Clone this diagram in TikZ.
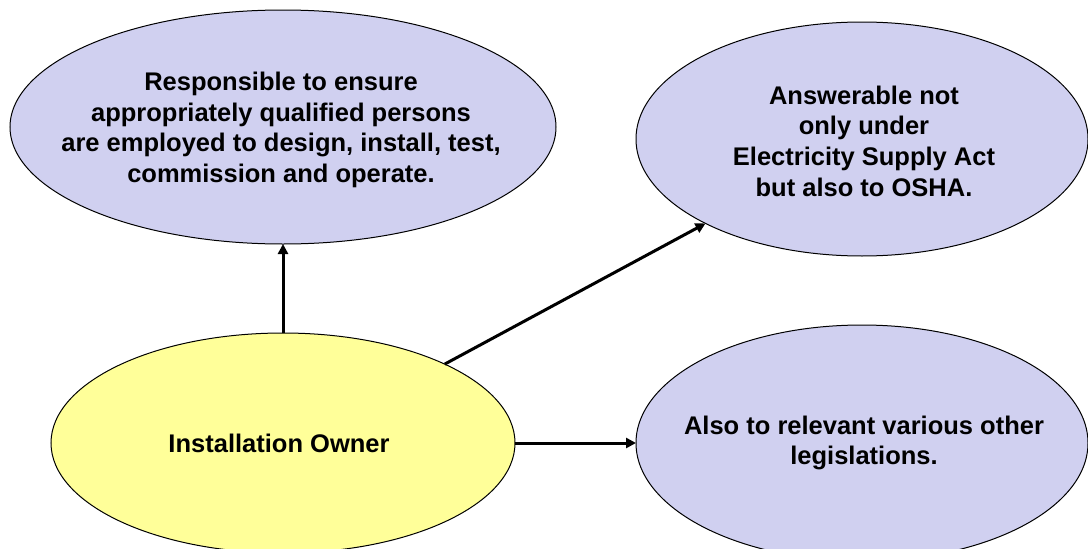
\documentclass[tikz,border=0pt]{standalone}
\usepackage{fontspec}
\setmainfont{Liberation Sans}
\usetikzlibrary{shapes.geometric,arrows.meta}
\definecolor{bluefill}{RGB}{208,208,240}
\definecolor{yellowfill}{RGB}{255,255,153}
\tikzset{
  oval/.style={ellipse, draw=black, line width=1pt, inner sep=0pt, outer sep=0pt},
  blueoval/.style={oval, fill=bluefill},
  yellowoval/.style={oval, fill=yellowfill},
  txt/.style={align=center, inner sep=0pt, font=\fontsize{25.5}{30.6}\selectfont\bfseries},
  arr/.style={line width=3pt, -{Triangle[length=10pt,width=10pt]}}
}
\begin{document}
\begin{tikzpicture}[x=1pt,y=-1pt]
\useasboundingbox (0,0) rectangle (1088,549);
\node[blueoval, minimum width=546pt, minimum height=234pt] (e1) at (283,127) {};
\node[txt] (t1) at (281,130)
  {Responsible to ensure\\appropriately qualified persons\\are employed to design, install, test,\\commission and operate.};
\node[blueoval, minimum width=452pt, minimum height=234pt] (e2) at (862,139) {};
\node[txt] (t2) at (864,141)
  {Answerable not\\only under\\Electricity Supply Act\\but also to OSHA.};
\node[blueoval, minimum width=452pt, minimum height=236pt] (e3) at (862,443) {};
\node[txt] (t3) at (864,443)
  {Also to relevant various other\\legislations.};
\node[yellowoval, minimum width=464pt, minimum height=220pt] (yo) at (283,443) {};
\node[txt] (t4) at (279,443) {Installation Owner};
\draw[arr] (yo.north) -- (e1.south);
\draw[arr] (yo.26) -- (e2);
\draw[arr] (yo.east) -- (e3.west);
\end{tikzpicture}
\end{document}
